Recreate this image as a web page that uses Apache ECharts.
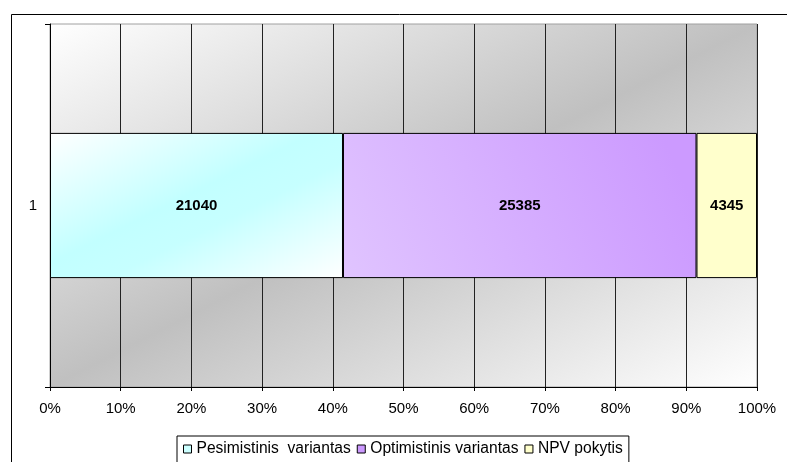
<!DOCTYPE html>
<html>
<head>
<meta charset="utf-8">
<script src="https://cdn.jsdelivr.net/npm/echarts@6/dist/echarts.min.js"></script>
<style>
  html, body { margin: 0; padding: 0; background: #ffffff; }
  #chart { width: 787px; height: 462px; }
</style>
</head>
<body>
<div id="chart"></div>
<script>
// NPV comparison: one stacked 100% bar, raw values shown as labels
const categories = ['1'];
const seriesNames = ['Pesimistinis  variantas', 'Optimistinis variantas', 'NPV pokytis'];
const pesimistinis = [21040];
const optimistinis = [25385];
const npvPokytis = [4345];
const xTicks = [0, 10, 20, 30, 40, 50, 60, 70, 80, 90, 100];

const rawSeries = [pesimistinis, optimistinis, npvPokytis];
const totals = categories.map((_, i) => rawSeries.reduce((s, arr) => s + arr[i], 0));
const shares = rawSeries.map(arr => arr.map((v, i) => v / totals[i] * 100));

const FONT = '"Liberation Sans", Arial, sans-serif';

// diagonal fill: light at both corners, colour along the anti-diagonal
function diagFill(w, h, stops) {
  const k = 2 * w * h / (w * w + h * h);
  return new echarts.graphic.LinearGradient(0, 0, k * h / w, k * w / h, stops);
}

const plotW = 707, plotH = 363;
const barFills = [
  diagFill(293, 145, [
    { offset: 0, color: '#ffffff' },
    { offset: 0.45, color: '#c2ffff' },
    { offset: 0.6, color: '#c6ffff' },
    { offset: 1, color: '#ffffff' }
  ]),
  new echarts.graphic.LinearGradient(0, 1, 0.9, 0, [
    { offset: 0, color: '#e0c4ff' },
    { offset: 1, color: '#cc9aff' }
  ]),
  '#ffffcc'
];
const legendColors = ['#ccffff', '#cc99ff', '#ffffcc'];

const chart = echarts.init(document.getElementById('chart'), null, { renderer: 'canvas' });

chart.setOption({
  animation: false,
  backgroundColor: '#ffffff',
  textStyle: { fontFamily: FONT },
  graphic: [{
    type: 'rect',
    left: 9, top: 12, z: -10,
    shape: { width: 820, height: 500 },
    style: { fill: 'none', stroke: '#000', lineWidth: 1 }
  }],
  grid: {
    left: 50, top: 24, right: 30, bottom: 75,
    show: true,
    borderColor: '#a0a0a0',
    borderWidth: 1,
    backgroundColor: diagFill(plotW, plotH, [
      { offset: 0, color: '#ffffff' },
      { offset: 0.5, color: '#c0c0c0' },
      { offset: 1, color: '#ffffff' }
    ])
  },
  legend: {
    data: seriesNames.map((n, i) => ({ name: n, itemStyle: { color: legendColors[i], borderColor: '#000', borderWidth: 1 } })),
    left: 177,
    top: 436,
    icon: 'rect',
    itemWidth: 8,
    itemHeight: 8,
    itemGap: 6,
    padding: [5, 6, 10, 6],
    borderColor: '#000',
    borderWidth: 1,
    backgroundColor: '#ffffff',
    textStyle: { fontFamily: FONT, fontSize: 15.6, color: '#000' }
  },
  xAxis: {
    type: 'value',
    min: 0,
    max: 100,
    interval: 10,
    axisLine: { show: true, lineStyle: { color: '#000', width: 1 } },
    axisTick: { show: true, length: 4, lineStyle: { color: '#000' } },
    splitLine: { show: true, lineStyle: { color: '#222', width: 1 } },
    axisLabel: {
      margin: 14,
      fontFamily: FONT,
      fontSize: 15,
      color: '#000',
      formatter: v => xTicks.includes(v) ? v + '%' : ''
    }
  },
  yAxis: {
    type: 'category',
    data: categories,
    axisLine: { show: true, lineStyle: { color: '#000', width: 1 } },
    axisTick: { show: true, length: 5, lineStyle: { color: '#000' } },
    axisLabel: { margin: 13, fontFamily: FONT, fontSize: 15, color: '#000' }
  },
  series: seriesNames.map((name, si) => ({
    name: name,
    type: 'bar',
    stack: 'total',
    barCategoryGap: '60%',
    data: shares[si],
    itemStyle: { color: barFills[si], borderColor: '#000', borderWidth: 1 },
    label: {
      show: true,
      position: 'inside',
      fontFamily: FONT,
      fontWeight: 'bold',
      fontSize: 15,
      color: '#000',
      formatter: p => String(rawSeries[si][p.dataIndex])
    }
  }))
});
</script>
</body>
</html>
